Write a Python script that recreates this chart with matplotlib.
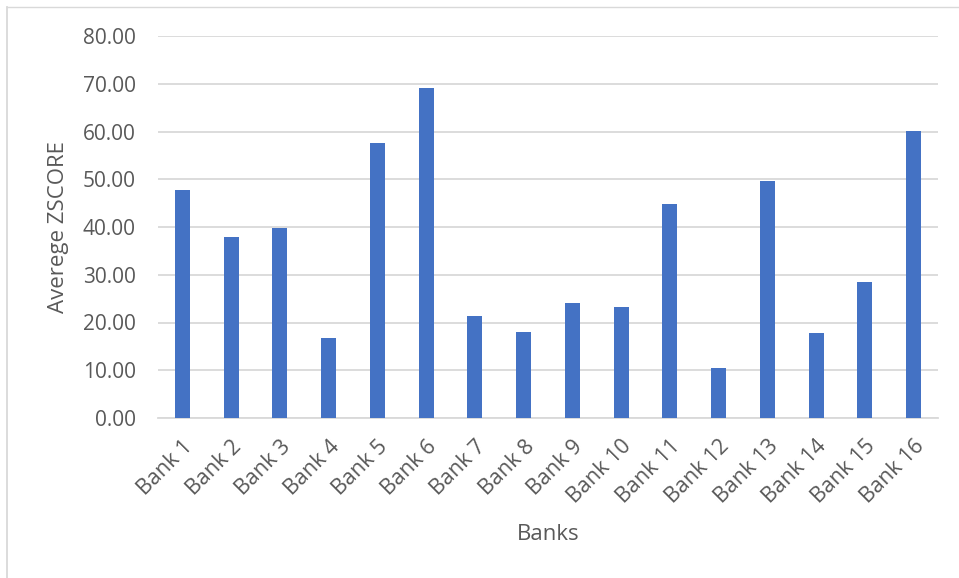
import matplotlib.pyplot as plt
import numpy as np
from matplotlib.lines import Line2D

# data
banks = ["Bank %d" % i for i in range(1, 17)]
zscore = [47.8, 37.9, 39.7, 16.8, 57.6, 69.2, 21.3, 18.0,
          24.1, 23.2, 44.9, 10.4, 49.6, 17.8, 28.4, 60.2]
yticks = [0, 10, 20, 30, 40, 50, 60, 70, 80]

text_col = "#595959"
grid_col = "#d9d9d9"
bar_col = "#4472c4"

plt.rcParams['font.family'] = ['Open Sans', 'DejaVu Sans']

fig = plt.figure(figsize=(9.59, 5.78), dpi=100)
ax = fig.add_axes([158 / 959, 1 - 418 / 578, (938 - 158) / 959, (418 - 36) / 578])

x = np.arange(len(banks))
ax.bar(x, zscore, width=0.31, color=bar_col, zorder=3)

ax.set_xlim(-0.5, len(banks) - 0.5)
ax.set_ylim(0, 80)
ax.set_yticks(yticks)
ax.set_yticklabels(["%.2f" % v for v in yticks], fontsize=15, color=text_col)
ax.set_xticks(x)
ax.set_xticklabels(banks, rotation=45, ha='right', rotation_mode='anchor',
                   fontsize=15.5, color=text_col)
ax.tick_params(axis='both', length=0)
ax.tick_params(axis='y', pad=16)
ax.tick_params(axis='x', pad=13)

ax.grid(axis='y', color=grid_col, linewidth=1.3, zorder=0)
for s in ['top', 'right', 'left']:
    ax.spines[s].set_visible(False)
ax.spines['bottom'].set_color(grid_col)
ax.spines['bottom'].set_linewidth(1.3)

ax.set_ylabel("Averege ZSCORE", fontsize=16, color=text_col, labelpad=10)
fig.text(548 / 959, 1 - 535 / 578, "Banks", fontsize=16, color=text_col,
         ha='center', va='center')

# chart border (top and left only visible)
fig.add_artist(Line2D([7 / 959, 1], [1 - 7 / 578, 1 - 7 / 578],
                      transform=fig.transFigure, color=grid_col, lw=1))
fig.add_artist(Line2D([7 / 959, 7 / 959], [0, 1 - 7 / 578],
                      transform=fig.transFigure, color=grid_col, lw=1.3))

fig.savefig("out.png", dpi=100)
